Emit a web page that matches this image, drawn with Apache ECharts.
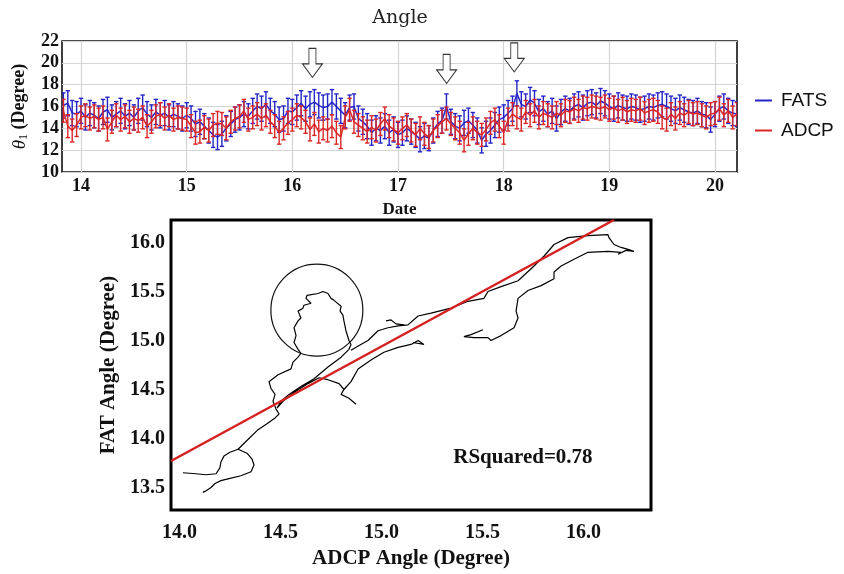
<!DOCTYPE html>
<html>
<head>
<meta charset="utf-8">
<script src="https://cdn.jsdelivr.net/npm/echarts@6/dist/echarts.min.js"></script>
<style>
html,body{margin:0;padding:0;background:#fff;}
#chart{width:844px;height:574px;}
</style>
</head>
<body>
<div id="chart"></div>
<script>
// ---------- Top panel: time series (hourly samples) ----------
const startDay = 13.8333;          // first sample (day)
const hourStep = 1 / 24;           // sampling interval (day)
const fatsValues = [
  16.1, 16.3, 15.4, 15.3,
  15.6, 15.0, 15.4, 15.2, 14.9, 15.5, 15.7, 15.0, 15.3, 15.6, 15.1, 15.4,
  15.0, 15.6, 15.9, 15.3, 15.0, 15.5, 15.2, 15.4, 15.0, 15.3, 15.1, 14.9,
  15.2, 14.9, 14.4, 14.6, 14.2, 13.8, 13.4, 13.2, 13.5, 14.0, 14.4, 14.8,
  15.0, 15.3, 15.1, 15.6, 16.0, 15.8, 16.2, 15.6, 15.3, 14.8, 14.9, 15.6,
  15.5, 15.9, 16.3, 15.8, 16.2, 16.4, 16.1, 15.9, 16.0, 16.4, 16.0, 15.6,
  15.2, 15.9, 16.0, 14.9, 14.6, 14.2, 13.6, 14.0, 13.8, 14.2, 13.6, 13.9,
  13.4, 13.6, 14.0, 13.7, 13.4, 13.0, 13.3, 13.1, 13.8, 14.4, 14.7, 16.0,
  14.6, 14.2, 14.0, 14.5, 14.7, 14.3, 13.8, 12.9, 13.5, 13.8, 14.3, 14.8,
  15.0, 15.4, 15.8, 17.2, 16.2, 16.0, 16.6, 16.3, 15.5, 15.8, 15.3, 15.6,
  14.9, 15.5, 15.8, 15.6, 16.0, 16.2, 15.9, 16.3, 16.4, 16.1, 16.5, 16.3,
  16.0, 15.8, 16.1, 15.9, 15.8, 16.0, 15.9, 15.7, 15.8, 16.0, 15.9, 16.1,
  16.2, 16.0, 15.8, 15.6, 15.9, 15.7, 15.5, 15.4, 15.6, 15.3, 15.2, 14.8,
  15.3, 15.8, 16.0, 15.6, 15.4, 15.3
];
const adcpValues = [
  15.6, 14.2, 13.8, 14.3,
  15.0, 15.2, 14.9, 15.1, 14.8, 15.0, 13.9, 14.6, 15.2, 14.8, 15.1, 14.6,
  14.9, 14.7, 15.0, 14.2, 14.6, 15.1, 15.3, 14.9, 15.2, 14.8, 15.0, 14.9,
  14.8, 14.2, 13.6, 13.7, 14.1, 13.8, 14.3, 14.5, 14.4, 14.0, 14.6, 14.9,
  15.1, 15.6, 14.8, 15.0, 15.3, 14.9, 15.2, 14.6, 14.2, 13.6, 14.0, 14.5,
  14.8, 15.2, 15.0, 14.6, 13.9, 14.4, 13.7, 14.0, 13.8, 14.2, 13.6, 13.2,
  15.0, 15.7, 14.6, 14.3, 14.0, 13.7, 14.1, 13.8, 14.4, 14.9, 14.2, 13.9,
  13.6, 14.0, 14.3, 13.8, 13.4, 14.0, 13.5, 13.2, 13.8, 14.2, 14.6, 14.9,
  14.4, 14.0, 13.6, 12.9, 13.5, 14.0, 13.6, 13.4, 13.9, 14.5, 14.8, 14.2,
  13.6, 14.8, 15.3, 15.0, 14.8, 15.5, 15.2, 15.6, 15.0, 15.4, 15.2, 15.0,
  15.4, 15.2, 15.6, 15.5, 15.8, 15.6, 15.9, 15.8, 16.0, 15.9, 15.8, 16.0,
  15.7, 15.9, 15.6, 15.8, 15.5, 15.7, 15.6, 15.8, 15.4, 15.6, 15.7, 15.5,
  15.0, 14.8, 15.3, 14.9, 15.4, 15.2, 15.5, 15.3, 15.4, 15.2, 15.0, 15.3,
  15.4, 15.8, 15.2, 15.6, 15.0, 15.3
];
const fatsErr = 1.15;
const adcpErr = 1.05;
const dayTicks = [14, 15, 16, 17, 18, 19, 20];
const arrowDays = [16.19, 17.46, 18.10];
const arrowLevels = [20.0, 19.45, 20.5];

// ---------- Bottom panel: FAT vs ADCP trajectory ----------
const trajA = [[14.017,13.65],[14.082,13.64],[14.131,13.63],[14.181,13.64],[14.200,13.70],[14.205,13.76],[14.220,13.82],[14.250,13.86],[14.290,13.89],[14.334,13.85],[14.359,13.79],[14.369,13.73],[14.354,13.66],[14.304,13.62],[14.245,13.59],[14.205,13.57],[14.176,13.54],[14.156,13.50],[14.126,13.46],[14.116,13.45]];
const trajB = [[14.290,13.89],[14.339,13.99],[14.389,14.09],[14.433,14.15],[14.473,14.21],[14.493,14.25],[14.478,14.30],[14.463,14.38],[14.473,14.45],[14.453,14.51],[14.443,14.58],[14.488,14.65],[14.552,14.71],[14.562,14.78],[14.587,14.83],[14.601,14.87],[14.587,14.91],[14.567,14.98],[14.577,15.05],[14.567,15.13],[14.587,15.20],[14.601,15.23],[14.587,15.30],[14.611,15.33],[14.616,15.36],[14.651,15.38],[14.626,15.43],[14.631,15.46],[14.686,15.48],[14.710,15.50],[14.735,15.48],[14.750,15.43],[14.765,15.41],[14.800,15.35],[14.795,15.30],[14.809,15.26],[14.814,15.20],[14.824,15.10],[14.839,15.00],[14.849,14.96],[14.839,14.91],[14.800,14.83],[14.735,14.73],[14.666,14.61],[14.601,14.53],[14.542,14.45],[14.502,14.38],[14.483,14.31],[14.512,14.38],[14.567,14.47],[14.636,14.56],[14.691,14.62],[14.735,14.60],[14.790,14.56],[14.814,14.50],[14.800,14.45],[14.839,14.41],[14.874,14.35]];
const trajC = [[14.814,14.50],[14.849,14.58],[14.884,14.71],[14.948,14.80],[15.012,14.88],[15.082,14.93],[15.146,14.96],[15.181,15.00],[15.210,14.96],[15.156,14.98]];
const trajD = [[14.849,14.90],[14.889,14.95],[14.933,15.00],[14.983,15.10],[15.032,15.13],[15.082,15.15],[15.131,15.16],[15.181,15.25],[15.245,15.28],[15.344,15.33],[15.428,15.40],[15.507,15.43],[15.527,15.50],[15.592,15.55],[15.676,15.61],[15.755,15.76],[15.804,15.86],[15.854,15.98],[15.923,16.05],[16.022,16.07],[16.121,16.08],[16.126,16.05],[16.151,15.98],[16.186,15.95],[16.220,15.93],[16.250,15.91],[16.210,15.92],[16.171,15.88],[16.186,15.90],[16.121,15.91],[16.022,15.90],[15.953,15.83],[15.889,15.76],[15.854,15.70],[15.854,15.63],[15.790,15.56],[15.725,15.51],[15.676,15.43],[15.666,15.30],[15.676,15.23],[15.656,15.13],[15.592,15.05],[15.542,15.00],[15.527,15.03],[15.458,15.03],[15.408,15.04],[15.443,15.06],[15.502,15.11]];
const trajE = [[15.022,15.20],[15.047,15.21],[15.072,15.17],[15.111,15.16]];
const regLine = [[13.958,13.77],[16.15,16.23]];
const circleCenter = [[14.68,15.31]];
const rsqText = 'RSquared=0.78';
const rsqPos = [[15.70,13.81]];
const adcpTicks = [14.0, 14.5, 15.0, 15.5, 16.0];
const fatTicks = [13.5, 14.0, 14.5, 15.0, 15.5, 16.0];

// ---------- build ----------
const days = fatsValues.map((_, i) => startDay + i * hourStep);
const fatsData = fatsValues.map((v, i) => [days[i], v]);
const adcpData = adcpValues.map((v, i) => [days[i], v]);
const fatsErrData = fatsValues.map((v, i) => [days[i], v, fatsErr]);
const adcpErrData = adcpValues.map((v, i) => [days[i], v, adcpErr]);
const arrowData = arrowDays.map((d, i) => [d, arrowLevels[i]]);

const BLUE = '#2424c8';
const RED = '#dc2626';
const SERIF = "'Liberation Serif', 'Times New Roman', serif";
const SANS = "'Liberation Sans', Arial, sans-serif";

function errRender(color) {
  return function (params, api) {
    const x = api.value(0), y = api.value(1), e = api.value(2);
    const t = api.coord([x, y + e]);
    const b = api.coord([x, y - e]);
    const hw = 2.2;
    const st = { stroke: color, lineWidth: 1.4 };
    return {
      type: 'group',
      children: [
        { type: 'line', shape: { x1: t[0], y1: t[1], x2: b[0], y2: b[1] }, style: st },
        { type: 'line', shape: { x1: t[0] - hw, y1: t[1], x2: t[0] + hw, y2: t[1] }, style: st },
        { type: 'line', shape: { x1: b[0] - hw, y1: b[1], x2: b[0] + hw, y2: b[1] }, style: st }
      ]
    };
  };
}

const trajStyle = { color: '#000', width: 1.2 };
function trajSeries(data) {
  return {
    type: 'line', xAxisIndex: 1, yAxisIndex: 1, data: data,
    showSymbol: false, symbol: 'none', lineStyle: trajStyle, silent: true, z: 3
  };
}

const chart = echarts.init(document.getElementById('chart'), null, { renderer: 'canvas' });
chart.setOption({
  animation: false,
  backgroundColor: '#fff',
  graphic: [{
    type: 'text', x: 400, y: 18,
    style: { text: 'Angle', align: 'center', verticalAlign: 'middle',
      fontFamily: "'DejaVu Serif', serif", fontSize: 19, fill: '#222' }
  }],
  legend: {
    left: 750, top: 86, orient: 'vertical', itemGap: 11,
    itemWidth: 17, itemHeight: 2, icon: 'rect',
    data: ['FATS', 'ADCP'],
    textStyle: { fontFamily: SANS, fontSize: 19, color: '#111', padding: [0, 0, 0, 4] }
  },
  grid: [
    { left: 62, top: 41, width: 675, height: 131, show: true, borderColor: '#111', borderWidth: 1.6, backgroundColor: '#fff' },
    { left: 171, top: 220, width: 480, height: 296, show: true, borderColor: '#000', borderWidth: 3, backgroundColor: '#fff' }
  ],
  xAxis: [
    {
      gridIndex: 0, type: 'value', min: 13.82, max: 20.208,
      name: 'Date', nameLocation: 'middle', nameGap: 29,
      nameTextStyle: { fontFamily: SERIF, fontWeight: 'bold', fontSize: 17, color: '#111' },
      axisLine: { show: false },
      axisTick: { show: false, customValues: dayTicks },
      axisLabel: { customValues: dayTicks, fontFamily: SERIF, fontWeight: 'bold', fontSize: 18, color: '#111', margin: 5 },
      splitLine: { show: true, lineStyle: { color: '#d4d4d4', width: 1.2 } }
    },
    {
      gridIndex: 1, type: 'value', min: 13.958, max: 16.334,
      name: 'ADCP Angle (Degree)', nameLocation: 'middle', nameGap: 38,
      nameTextStyle: { fontFamily: SERIF, fontWeight: 'bold', fontSize: 21, color: '#111' },
      axisLine: { show: false },
      axisTick: { show: false, customValues: adcpTicks },
      axisLabel: { customValues: adcpTicks, formatter: v => v.toFixed(1), fontFamily: SERIF, fontWeight: 'bold', fontSize: 20, color: '#111', margin: 13 },
      splitLine: { show: false }
    }
  ],
  yAxis: [
    {
      gridIndex: 0, type: 'value', min: 10, max: 22, interval: 2,
      name: '{t|θ}{s|1} (Degree)', nameLocation: 'middle', nameGap: 30, nameRotate: 90,
      nameTextStyle: { fontFamily: SERIF, fontWeight: 'bold', fontSize: 18, color: '#111',
        rich: {
          t: { fontFamily: SERIF, fontStyle: 'italic', fontWeight: 'normal', fontSize: 19, color: '#111' },
          s: { fontFamily: SERIF, fontWeight: 'normal', fontSize: 12, color: '#111', verticalAlign: 'bottom', padding: [9, 0, 0, 0] }
        }
      },
      axisLine: { show: false },
      axisTick: { show: false },
      axisLabel: { fontFamily: SERIF, fontWeight: 'bold', fontSize: 18, color: '#111', margin: 3 },
      splitLine: { show: true, lineStyle: { color: '#d4d4d4', width: 1.2 } }
    },
    {
      gridIndex: 1, type: 'value', min: 13.27, max: 16.23,
      name: 'FAT Angle (Degree)', nameLocation: 'middle', nameGap: 44, nameRotate: 90,
      nameTextStyle: { fontFamily: SERIF, fontWeight: 'bold', fontSize: 21, color: '#111' },
      axisLine: { show: false },
      axisTick: { show: false, customValues: fatTicks },
      axisLabel: { customValues: fatTicks, formatter: v => v.toFixed(1), fontFamily: SERIF, fontWeight: 'bold', fontSize: 20, color: '#111', margin: 6 },
      splitLine: { show: false }
    }
  ],
  series: [
    { name: 'FATS', type: 'line', xAxisIndex: 0, yAxisIndex: 0, data: fatsData, showSymbol: false, symbol: 'none',
      lineStyle: { color: BLUE, width: 1.5 }, itemStyle: { color: BLUE }, z: 2 },
    { name: 'FATS', type: 'custom', xAxisIndex: 0, yAxisIndex: 0, data: fatsErrData, renderItem: errRender(BLUE),
      clip: true, encode: { x: 0, y: 1 }, itemStyle: { color: BLUE }, z: 2 },
    { name: 'ADCP', type: 'line', xAxisIndex: 0, yAxisIndex: 0, data: adcpData, showSymbol: false, symbol: 'none',
      lineStyle: { color: RED, width: 1.5 }, itemStyle: { color: RED }, z: 3 },
    { name: 'ADCP', type: 'custom', xAxisIndex: 0, yAxisIndex: 0, data: adcpErrData, renderItem: errRender(RED),
      clip: true, encode: { x: 0, y: 1 }, itemStyle: { color: RED }, z: 3 },
    { type: 'scatter', xAxisIndex: 0, yAxisIndex: 0, data: arrowData,
      symbol: 'path://M6.5,0 L13.5,0 L13.5,16 L20,16 L10,30 L0,16 L6.5,16 Z', symbolSize: [20, 29],
      itemStyle: { color: '#fff', borderColor: '#333', borderWidth: 1, opacity: 1 }, silent: true, z: 5 },
    trajSeries(trajA), trajSeries(trajB), trajSeries(trajC), trajSeries(trajD), trajSeries(trajE),
    { type: 'line', xAxisIndex: 1, yAxisIndex: 1, data: regLine, showSymbol: false, symbol: 'none',
      lineStyle: { color: '#d42020', width: 2.5 }, silent: true, z: 4 },
    { type: 'scatter', xAxisIndex: 1, yAxisIndex: 1, data: circleCenter, symbol: 'circle', symbolSize: 92,
      itemStyle: { color: 'rgba(0,0,0,0)', borderColor: '#111', borderWidth: 1.2, opacity: 1 }, silent: true, z: 4 },
    { type: 'scatter', xAxisIndex: 1, yAxisIndex: 1, data: rsqPos, symbolSize: 1,
      itemStyle: { color: 'rgba(0,0,0,0)', opacity: 1 }, silent: true, z: 5,
      label: { show: true, position: 'inside', formatter: rsqText,
        fontFamily: SERIF, fontWeight: 'bold', fontSize: 21, color: '#111', opacity: 1 } }
  ]
});
</script>
</body>
</html>
